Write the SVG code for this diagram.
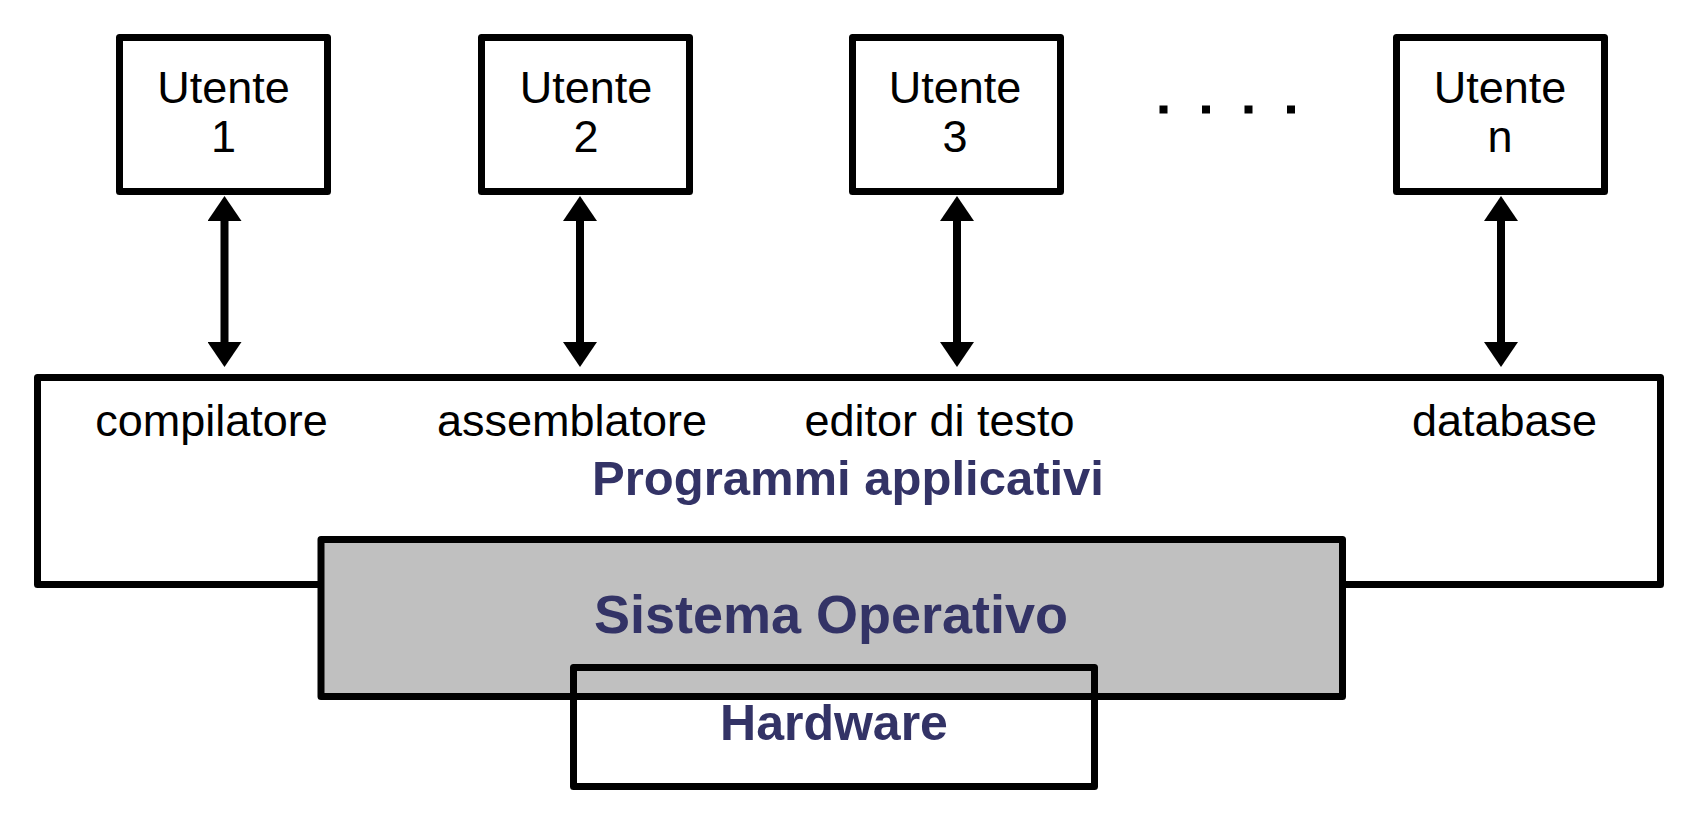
<svg xmlns="http://www.w3.org/2000/svg" width="1698" height="814" viewBox="0 0 1698 814">
  <style>
    .box { fill: #ffffff; stroke: #000000; stroke-width: 7; stroke-linejoin: round; }
    .os { fill: #c0c0c0; stroke: #000000; stroke-width: 7; stroke-linejoin: round; }
    .hw { fill: none; stroke: #000000; stroke-width: 7; stroke-linejoin: round; }
    .lbl { font-family: "Liberation Sans", Arial, sans-serif; font-size: 45px; fill: #000000; text-anchor: middle; }
    .title { font-family: "Liberation Sans", Arial, sans-serif; font-weight: bold; fill: #333366; text-anchor: middle; }
    .conn { stroke: #000000; stroke-width: 8; fill: none; marker-start: url(#head); marker-end: url(#head); }
    .dot { fill: #000000; }
  </style>
  <defs>
    <marker id="head" markerUnits="userSpaceOnUse" viewBox="0 0 25 34" markerWidth="25" markerHeight="34" refX="2" refY="17" orient="auto-start-reverse">
      <path d="M0,0 L25,17 L0,34 Z" fill="#000000"/>
    </marker>
  </defs>
  <rect width="1698" height="814" fill="#ffffff"/>

  <g id="programmi">
    <rect class="box" x="37.5" y="377.5" width="1623" height="207"/>
    <text class="lbl" x="211.5" y="436">compilatore</text>
    <text class="lbl" x="572" y="436">assemblatore</text>
    <text class="lbl" x="939.5" y="436">editor di testo</text>
    <text class="lbl" x="1504.5" y="436">database</text>
    <text class="title" x="848" y="495" font-size="49">Programmi applicativi</text>
  </g>

  <g id="sistema-operativo">
    <rect class="os" x="321" y="539.5" width="1021.5" height="157"/>
    <text class="title" x="831" y="633" font-size="54">Sistema Operativo</text>
  </g>

  <g id="hardware">
    <rect class="hw" x="573.5" y="667.5" width="521" height="119"/>
    <text class="title" x="834" y="740" font-size="50">Hardware</text>
  </g>

  <g id="utente1">
    <rect class="box" x="119.5" y="37.5" width="208" height="154"/>
    <text class="lbl" x="223.5" y="103">Utente</text>
    <text class="lbl" x="223.5" y="152">1</text>
  </g>
  <g id="utente2">
    <rect class="box" x="481.5" y="37.5" width="208" height="154"/>
    <text class="lbl" x="586" y="103">Utente</text>
    <text class="lbl" x="586" y="152">2</text>
  </g>
  <g id="utente3">
    <rect class="box" x="852.5" y="37.5" width="208" height="154"/>
    <text class="lbl" x="955" y="103">Utente</text>
    <text class="lbl" x="955" y="152">3</text>
  </g>
  <g id="utenten">
    <rect class="box" x="1396.5" y="37.5" width="208" height="154"/>
    <text class="lbl" x="1500" y="103">Utente</text>
    <text class="lbl" x="1500" y="152">n</text>
  </g>

  <g id="dots">
    <rect class="dot" x="1159.5" y="105.5" width="8" height="8"/>
    <rect class="dot" x="1202" y="105.5" width="8" height="8"/>
    <rect class="dot" x="1244.5" y="105.5" width="8" height="8"/>
    <rect class="dot" x="1287" y="105.5" width="8" height="8"/>
  </g>

  <g id="connectors">
    <line class="conn" x1="224.5" y1="219" x2="224.5" y2="344"/>
    <line class="conn" x1="580" y1="219" x2="580" y2="344"/>
    <line class="conn" x1="957" y1="219" x2="957" y2="344"/>
    <line class="conn" x1="1501" y1="219" x2="1501" y2="344"/>
  </g>
</svg>
